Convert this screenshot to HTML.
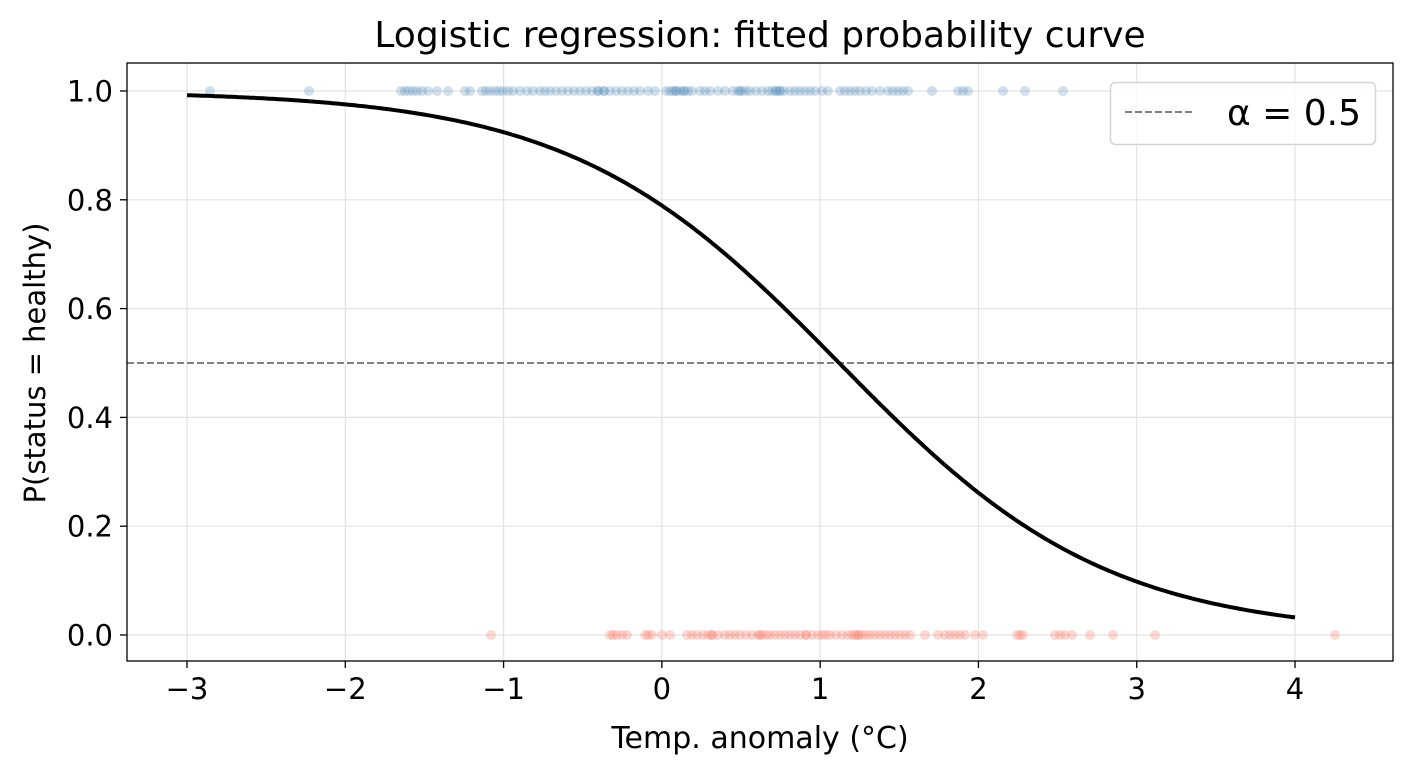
<!DOCTYPE html>
<html><head><meta charset="utf-8"><style>
body{margin:0;background:#fff;}
svg text{font-family:"DejaVu Sans","Liberation Sans",sans-serif;fill:#000;}
</style></head><body>
<svg id="s" width="1412" height="771" xmlns="http://www.w3.org/2000/svg">
<rect width="1412" height="771" fill="#fff"/>
<g id="grid" stroke="#e3e3e3" stroke-width="1.2"></g>
<line x1="127" x2="1393" y1="363" y2="363" stroke="#808080" stroke-width="2" stroke-dasharray="7,3"/>
<g id="dots"></g>
<path id="curve" fill="none" stroke="#000" stroke-width="4"/>
<rect x="127" y="63" width="1266" height="598" fill="none" stroke="#000" stroke-width="1.3"/>
<g id="ticks" font-size="29"></g>
<text x="760" y="47" font-size="36" text-anchor="middle">Logistic regression: fitted probability curve</text>
<text x="760" y="748" font-size="30" text-anchor="middle">Temp. anomaly (°C)</text>
<text transform="translate(45,363) rotate(-90)" font-size="29" text-anchor="middle">P(status = healthy)</text>
<rect x="1110.5" y="82.5" width="265" height="62" rx="5" fill="#fff" fill-opacity="0.8" stroke="#d4d4d4" stroke-width="1.5"/>
<line x1="1125" x2="1195" y1="112" y2="112" stroke="#808080" stroke-width="2" stroke-dasharray="7,3"/>
<text x="1227" y="125" font-size="36">α = 0.5</text>
</svg>
<script>
var NS="http://www.w3.org/2000/svg";
function el(p,t,a,txt){var e=document.createElementNS(NS,t);for(var k in a)e.setAttribute(k,a[k]);if(txt)e.textContent=txt;document.getElementById(p).appendChild(e);}
function X(v){return 187+(v+3)*158.29;}
function Y(p){return 635-544*p;}
for(var i=-3;i<=4;i++){var x=X(i);el("grid","line",{x1:x,x2:x,y1:63,y2:661});
el("ticks","line",{x1:x,x2:x,y1:661,y2:668,stroke:"#000","stroke-width":1.3});
el("ticks","text",{x:x,y:699,"text-anchor":"middle"},(i<0?"\u2212":"")+Math.abs(i));}
for(var j=0;j<=5;j++){var p=j/5,y=Y(p);el("grid","line",{x1:127,x2:1393,y1:y,y2:y});
el("ticks","line",{x1:120,x2:127,y1:y,y2:y,stroke:"#000","stroke-width":1.3});
el("ticks","text",{x:113,y:y+10.5,"text-anchor":"end"},p.toFixed(1));}
var blue=[210,309,401,405,409,413,417,422,428,437,448,465,470,482,486,490,495,499,503,508,513,520,527,533,540,545,550,556,562,568,574,580,586,592,598,604,610,616,622,628,634,640,648,655,666,670,673,676,680,684,688,692,700,705,710,718,725,733,738,742,746,750,756,762,768,772,776,780,784,790,795,800,805,810,815,822,828,840,845,850,855,860,866,872,880,888,893,898,903,908,932,958,963,968,1003,1025,1063,598,604,676,684,740,776,780];
var red=[491,610,613,617,622,627,645,648,652,662,670,687,692,697,703,708,712,718,725,730,735,740,746,752,758,762,766,770,775,780,785,790,795,800,806,812,818,822,826,830,836,842,848,852,858,862,866,870,875,880,885,890,895,900,905,910,925,938,945,950,955,960,965,975,983,1017,1020,1023,1055,1060,1065,1072,1090,1113,1155,1335,712,760,806,855,858];
blue.forEach(function(x){el("dots","circle",{cx:x,cy:91,r:5,fill:"#4682b4","fill-opacity":0.25});});
red.forEach(function(x){el("dots","circle",{cx:x,cy:635,r:5,fill:"#fa8072","fill-opacity":0.3});});
var d="";for(var v=-3;v<=4.0001;v+=0.02){var p=1/(1+Math.exp(1.18*(v-1.12)));d+=(d?"L":"M")+X(v).toFixed(1)+","+Y(p).toFixed(1);}
document.getElementById("curve").setAttribute("d",d);
</script>
</body></html>
